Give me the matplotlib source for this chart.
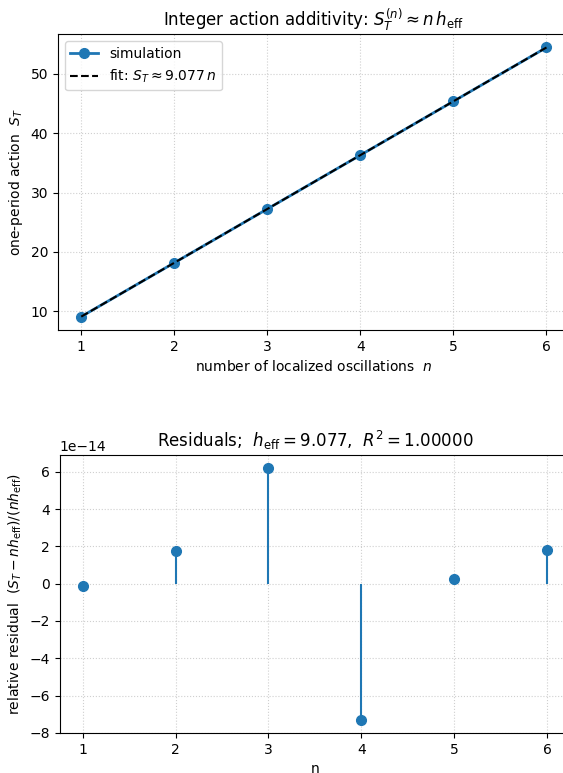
import matplotlib
matplotlib.use("Agg")
import matplotlib.pyplot as plt
import numpy as np

n_vals = [1, 2, 3, 4, 5, 6]
action = [9.077, 18.154, 27.231, 36.308, 45.385, 54.462]
h_eff = 9.077
residuals = [-0.13e-14, 1.75e-14, 6.22e-14, -7.33e-14, 0.27e-14, 1.79e-14]

fig = plt.figure(figsize=(5.63, 7.73), dpi=100)
ax1 = fig.add_axes([0.103, 0.573, 0.909, 0.383])
ax2 = fig.add_axes([0.1057, 0.0517, 0.907, 0.3597])

n_arr = np.array(n_vals)
ax1.plot(n_vals, action, 'o-', color='C0', lw=2, ms=7, label='simulation')
ax1.plot(n_vals, h_eff * n_arr, '--', color='black', lw=1.5,
         label=r'fit: $S_T \approx 9.077\,n$')
ax1.set_xlabel(r'number of localized oscillations  $n$')
ax1.set_ylabel(r'one-period action  $S_T$')
ax1.set_title(r'Integer action additivity: $S_T^{(n)} \approx n\,h_{\rm eff}$')
ax1.grid(True, linestyle=':', alpha=0.6)
ax1.legend(loc='upper left')

ml, sl, bl = ax2.stem(n_vals, residuals, linefmt='C0-', markerfmt='o', basefmt=' ')
ml.set_markersize(7)
ax2.set_xlabel('n')
ax2.set_ylabel(r'relative residual  $(S_T - n h_{\rm eff})/(n h_{\rm eff})$')
ax2.set_title(r'Residuals;  $h_{\rm eff}=9.077$,  $R^2=1.00000$')
ax2.grid(True, linestyle=':', alpha=0.6)

fig.savefig('out.png', dpi=100)
